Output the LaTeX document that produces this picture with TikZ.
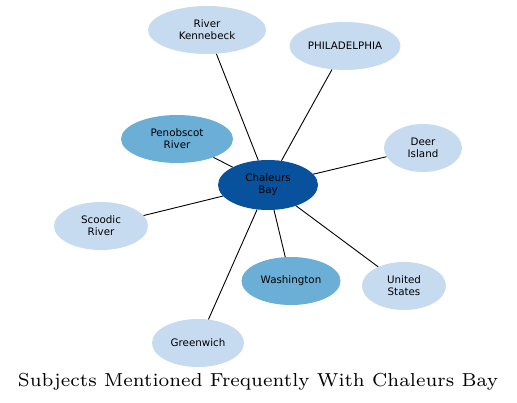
\documentclass[tikz,border=0pt]{standalone}
\usepackage{fontspec}
\setmainfont{Latin Modern Roman}
\newfontfamily\nodefont{DejaVu Sans}
\newfontfamily\titlefont{lmroman7-regular.otf}
\usetikzlibrary{shapes.geometric}
\definecolor{cdark}{HTML}{08519C}
\definecolor{cmed}{HTML}{6BAED6}
\definecolor{clight}{HTML}{C6DBEF}
\tikzset{
  bub/.style={ellipse, inner sep=0pt, minimum height=48pt, align=center,
    font=\nodefont\fontsize{10.3}{11.8}\selectfont, text=black},
  lt/.style={bub, fill=clight},
  md/.style={bub, fill=cmed},
  dk/.style={bub, fill=cdark},
  edge/.style={draw=black, line width=0.9pt}
}
\begin{document}
\begin{tikzpicture}[x=1pt,y=-1pt]
\useasboundingbox (0,0) rectangle (517,403);
\node[dk, minimum width=100pt, minimum height=50pt] (c) at (268,185) {Chaleurs\\Bay};
\node[lt, minimum width=118pt] (rk) at (207,30) {River\\Kennebeck};
\node[lt, minimum width=111pt] (ph) at (345,46) {PHILADELPHIA};
\node[md, minimum width=112pt] (pr) at (177,139) {Penobscot\\River};
\node[lt, minimum width=78pt] (di) at (423,148) {Deer\\Island};
\node[lt, minimum width=94pt] (sr) at (101,226) {Scoodic\\River};
\node[md, minimum width=99pt] (wa) at (291,281) {Washington};
\node[lt, minimum width=84pt] (us) at (404,286) {United\\States};
\node[lt, minimum width=92pt] (gr) at (198,343) {Greenwich};
\node[font=\titlefont\fontsize{18.8}{22}\selectfont] (t) at (258,382) {Subjects Mentioned Frequently With Chaleurs Bay};
\foreach \n in {rk,ph,pr,di,sr,wa,us,gr} \draw[edge] (c) -- (\n);
\end{tikzpicture}
\end{document}
